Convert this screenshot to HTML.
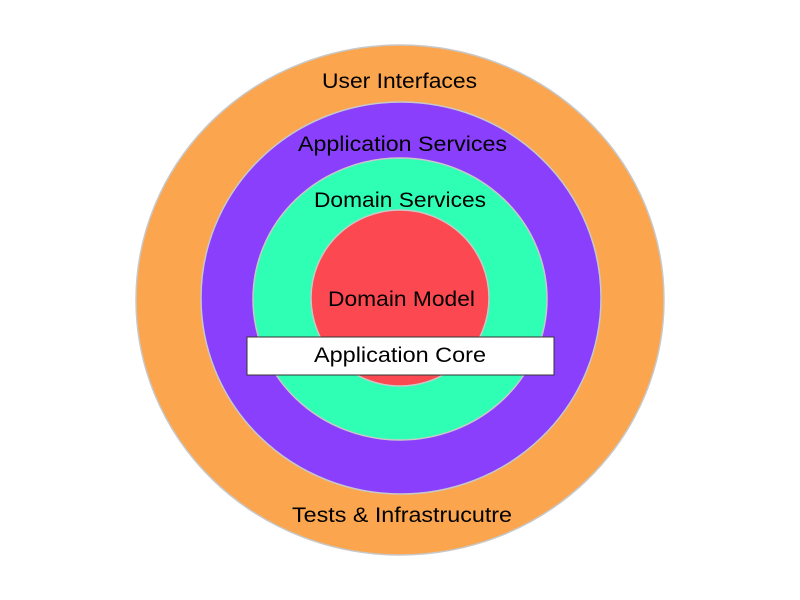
<!DOCTYPE html>
<html><head><style>html,body{margin:0;padding:0;background:#fff;}svg{display:block}</style></head>
<body>
<svg width="800" height="600" viewBox="0 0 800 600" xmlns="http://www.w3.org/2000/svg" font-family="Liberation Sans, Arial, sans-serif" font-size="21" fill="#000">
<ellipse cx="400" cy="300" rx="264" ry="255" fill="#fba54f" stroke="#c8c8c8" stroke-width="1.5"/>
<ellipse cx="401" cy="298" rx="200" ry="196" fill="#8a3ffc" stroke="#c8c8c8" stroke-width="1.5"/>
<ellipse cx="400" cy="299" rx="147" ry="141" fill="#2effb4" stroke="#c8c8c8" stroke-width="1.5"/>
<ellipse cx="400" cy="298" rx="89" ry="88" fill="#fc4850" stroke="#c8c8c8" stroke-width="1.5"/>
<rect x="247" y="337" width="307" height="38" fill="#fff" stroke="#333" stroke-width="1"/>
<text x="322" y="88" textLength="155" lengthAdjust="spacingAndGlyphs">User Interfaces</text>
<text x="298" y="151" textLength="209" lengthAdjust="spacingAndGlyphs">Application Services</text>
<text x="314" y="207" textLength="172" lengthAdjust="spacingAndGlyphs">Domain Services</text>
<text x="328" y="306" textLength="147" lengthAdjust="spacingAndGlyphs">Domain Model</text>
<text x="314" y="362" textLength="172" lengthAdjust="spacingAndGlyphs">Application Core</text>
<text x="292" y="522" textLength="220" lengthAdjust="spacingAndGlyphs">Tests &amp; Infrastrucutre</text>
</svg>
</body></html>
